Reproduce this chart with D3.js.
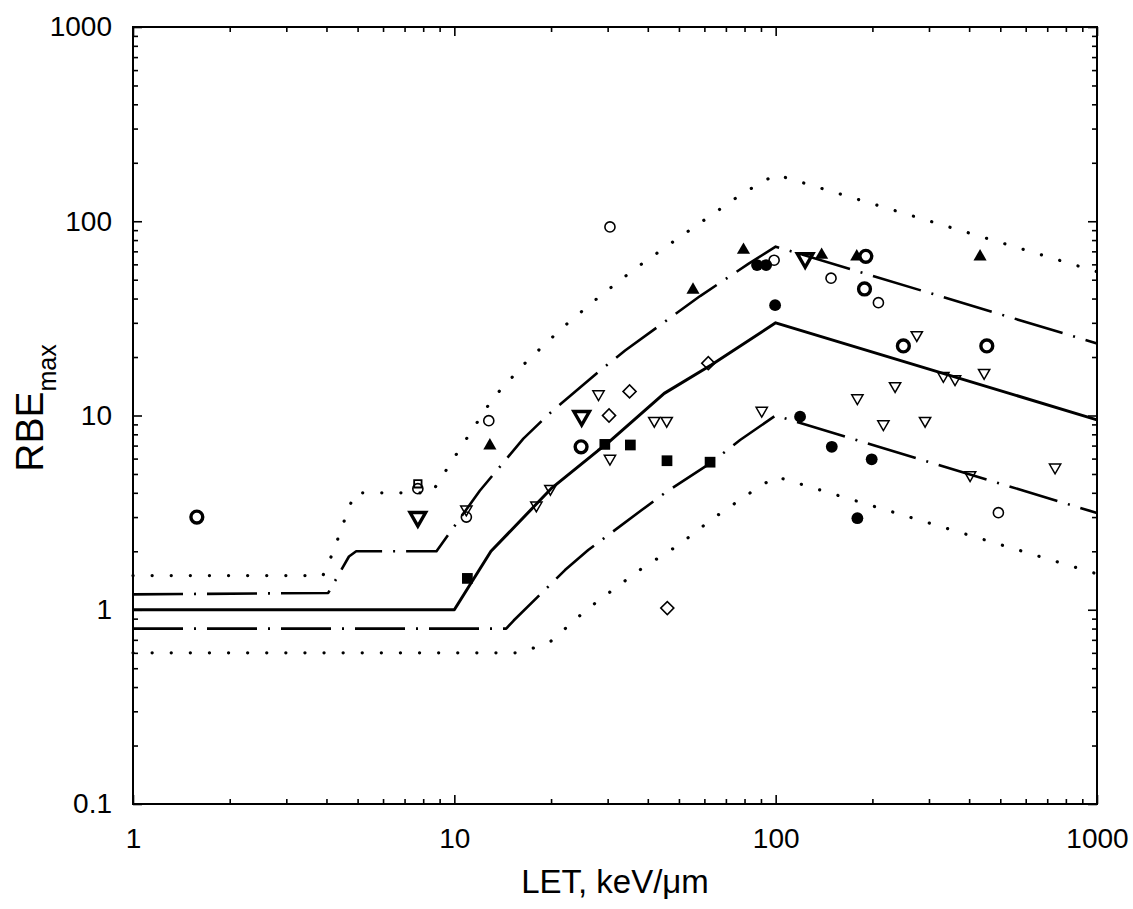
<!DOCTYPE html>
<html>
<head>
<meta charset="utf-8">
<script src="https://cdn.jsdelivr.net/npm/d3@7"></script>
<style>
  body { margin: 0; background: #fff; }
  text { font-family: "Liberation Sans", Arial, Helvetica, sans-serif; fill: #000; }
</style>
</head>
<body>
<div id="viz"></div>
<script>
const width = 1133;
const height = 909;
const margin = {top: 27, right: 36, bottom: 105, left: 133};

// tick labels
const xTickValues = [1, 10, 100, 1000];
const yTickValues = [0.1, 1, 10, 100, 1000];

// model curves [LET, RBE]
const solidLine = [[1, 1], [10, 1], [13, 2], [18, 3.5], [20, 4.2], [28, 6.6], [30, 7.2], [45, 13], [63, 18.2], [100, 30], [1000, 9.5]];
const upperDashDot = [[1, 1.2], [4.05, 1.22], [4.7, 1.88], [4.95, 2], [8.8, 2], [12, 4.1], [16.4, 7.6], [19.6, 10.1], [28.1, 16.8], [34, 21.6], [48.6, 33.2], [58.2, 41.2], [82.2, 60.3], [100, 74], [1000, 23.5]];
const lowerDashDot = [[1, 0.8], [14.5, 0.8], [15.3, 0.88], [22.1, 1.6], [26.1, 2.03], [38.3, 3.26], [45.3, 4], [62.5, 5.67], [77.5, 7.48], [100, 10], [1000, 3.15]];
const upperDotted = [[1, 1.5], [3.9, 1.5], [4.2, 1.99], [4.6, 3.04], [4.9, 4], [8.5, 4], [10.2, 6.4], [13.2, 12.3], [16.7, 18.8], [21.7, 28.3], [28.1, 40.6], [36.3, 56.6], [47.2, 77], [61, 103.5], [78.8, 139], [100, 174], [1000, 55]];
const lowerDotted = [[1, 0.6], [16, 0.6], [17.4, 0.63], [20, 0.69], [22.7, 0.83], [25.8, 1], [29.4, 1.18], [38.3, 1.63], [49.8, 2.15], [64, 2.96], [82.6, 3.96], [100, 4.85], [1000, 1.53]];

// measured points [LET, RBE], one array per symbol
const boldOpenCircles = [[1.58, 3], [24.8, 6.9], [190.8, 66], [189, 44.8], [249.7, 22.8], [454, 22.8]];
const openCircles = [[7.7, 4.2], [10.9, 3], [12.8, 9.4], [30.5, 93.5], [98.9, 63], [148.7, 50.9], [208.8, 38.1], [493.3, 3.16]];
const filledCircles = [[87.5, 59.5], [93.4, 59.5], [99.6, 37], [119.1, 9.86], [149.5, 6.9], [199, 5.95], [179.6, 2.96]];
const filledTriangles = [[12.9, 7], [55.3, 44.3], [79.4, 71.1], [139, 67], [178.8, 65.7], [432.6, 65.7]];
const filledSquares = [[10.98, 1.45], [29.4, 7.1], [35.3, 7.05], [45.9, 5.85], [62.5, 5.75]];
const openDiamonds = [[30.3, 10], [35.1, 13.3], [46, 1.02], [61.7, 18.6]];
const openSquares = [[7.7, 4.45]];
const openDownTriangles = [[10.9, 3.29], [18, 3.45], [19.9, 4.2], [28.1, 12.9], [30.5, 6], [41.9, 9.4], [45.8, 9.4],
  [90.5, 10.6], [179.6, 12.3], [216.4, 9.04], [235.3, 14.2], [274.9, 26], [291.7, 9.4], [332.6, 16], [361.6, 15.4],
  [402.8, 4.94], [445.4, 16.6], [740.6, 5.41]];
const boldDownTriangles = [[7.7, 3], [24.9, 9.94], [123.5, 64.5]];

const svg = d3.select('#viz')
  .append('svg')
    .attr('width', width)
    .attr('height', height);

const xScale = d3.scaleLog()
  .domain([1, 1000])
  .range([margin.left, width - margin.right]);

const yScale = d3.scaleLog()
  .domain([0.1, 1000])
  .range([height - margin.bottom, margin.top]);

const minors = (lo, hi) => {
  const out = [];
  for (let p = lo; p < hi; p *= 10) {
    for (let k = 2; k <= 9; k++) out.push(p * k);
  }
  return out;
};
const xMinor = minors(1, 1000);
const yMinor = minors(0.1, 1000);

const fmt = d => d3.format('~g')(d);

// bottom
svg.append('g')
  .attr('transform', `translate(0, ${height - margin.bottom})`)
  .call(d3.axisBottom(xScale).tickValues(xTickValues).tickFormat(fmt).tickSize(-9).tickPadding(24))
  .call(g => g.select('.domain').remove())
  .call(g => g.selectAll('text').attr('font-size', 28).attr('font-family', null));
svg.append('g')
  .attr('transform', `translate(0, ${height - margin.bottom})`)
  .call(d3.axisBottom(xScale).tickValues(xMinor).tickFormat('').tickSize(-5))
  .call(g => g.select('.domain').remove());

// top
svg.append('g')
  .attr('transform', `translate(0, ${margin.top})`)
  .call(d3.axisTop(xScale).tickValues(xTickValues).tickFormat('').tickSize(-9))
  .call(g => g.select('.domain').remove());
svg.append('g')
  .attr('transform', `translate(0, ${margin.top})`)
  .call(d3.axisTop(xScale).tickValues(xMinor).tickFormat('').tickSize(-5))
  .call(g => g.select('.domain').remove());

// left
svg.append('g')
  .attr('transform', `translate(${margin.left}, 0)`)
  .call(d3.axisLeft(yScale).tickValues(yTickValues).tickFormat(fmt).tickSize(-9).tickPadding(21))
  .call(g => g.select('.domain').remove())
  .call(g => g.selectAll('text').attr('font-size', 28).attr('font-family', null));
svg.append('g')
  .attr('transform', `translate(${margin.left}, 0)`)
  .call(d3.axisLeft(yScale).tickValues(yMinor).tickFormat('').tickSize(-5))
  .call(g => g.select('.domain').remove());

// right
svg.append('g')
  .attr('transform', `translate(${width - margin.right}, 0)`)
  .call(d3.axisRight(yScale).tickValues(yTickValues).tickFormat('').tickSize(-9))
  .call(g => g.select('.domain').remove());
svg.append('g')
  .attr('transform', `translate(${width - margin.right}, 0)`)
  .call(d3.axisRight(yScale).tickValues(yMinor).tickFormat('').tickSize(-5))
  .call(g => g.select('.domain').remove());

svg.selectAll('.tick line').attr('stroke', '#000').attr('stroke-width', 1.6);

// frame
svg.append('rect')
  .attr('x', margin.left)
  .attr('y', margin.top)
  .attr('width', width - margin.left - margin.right)
  .attr('height', height - margin.top - margin.bottom)
  .attr('fill', 'none')
  .attr('stroke', '#000')
  .attr('stroke-width', 2);

// curves
const lineGen = d3.line()
  .x(d => xScale(d[0]))
  .y(d => yScale(d[1]));

const drawCurve = (data, width, dash, cap) => {
  svg.append('path')
    .attr('d', lineGen(data))
    .attr('fill', 'none')
    .attr('stroke', '#000')
    .attr('stroke-width', width)
    .attr('stroke-dasharray', dash)
    .attr('stroke-linecap', cap)
    .attr('stroke-linejoin', 'round');
};

drawCurve(upperDotted, 3.2, '0.1 19', 'round');
drawCurve(lowerDotted, 3.2, '0.1 19', 'round');
drawCurve(upperDashDot, 2.6, '50 11 2 11', 'butt');
drawCurve(lowerDashDot, 2.6, '50 11 2 11', 'butt');
drawCurve(solidLine, 3, null, 'butt');

// markers
const drawMarkers = (data, type, size, rotate, fill, strokeWidth) => {
  svg.append('g')
    .selectAll('path')
    .data(data)
    .join('path')
      .attr('d', d3.symbol().type(type).size(size))
      .attr('transform', d => `translate(${xScale(d[0])}, ${yScale(d[1])}) rotate(${rotate})`)
      .attr('fill', fill)
      .attr('stroke', '#000')
      .attr('stroke-width', strokeWidth);
};

drawMarkers(openSquares, d3.symbolSquare, 55, 0, 'none', 1.8);
drawMarkers(openCircles, d3.symbolCircle, 80, 0, 'none', 1.6);
drawMarkers(boldOpenCircles, d3.symbolCircle, 110, 0, 'none', 3.4);
drawMarkers(filledCircles, d3.symbolCircle, 110, 0, '#000', 0);
drawMarkers(filledTriangles, d3.symbolTriangle, 75, 0, '#000', 0);
drawMarkers(filledSquares, d3.symbolSquare, 115, 0, '#000', 0);
drawMarkers(openDiamonds, d3.symbolSquare, 85, 45, 'none', 1.6);
drawMarkers(openDownTriangles, d3.symbolTriangle, 55, 180, 'none', 1.5);
drawMarkers(boldDownTriangles, d3.symbolTriangle, 105, 180, 'none', 3.4);

// axis titles
svg.append('text')
  .attr('x', (margin.left + width - margin.right) / 2)
  .attr('y', 893)
  .attr('text-anchor', 'middle')
  .attr('font-size', 33)
  .text('LET, keV/μm');

const yTitle = svg.append('text')
  .attr('transform', `translate(43, 408) rotate(-90)`)
  .attr('text-anchor', 'middle')
  .attr('font-size', 39);
yTitle.append('tspan').text('RBE');
yTitle.append('tspan')
  .attr('font-size', 25)
  .attr('dy', 13)
  .text('max');
</script>
</body>
</html>
